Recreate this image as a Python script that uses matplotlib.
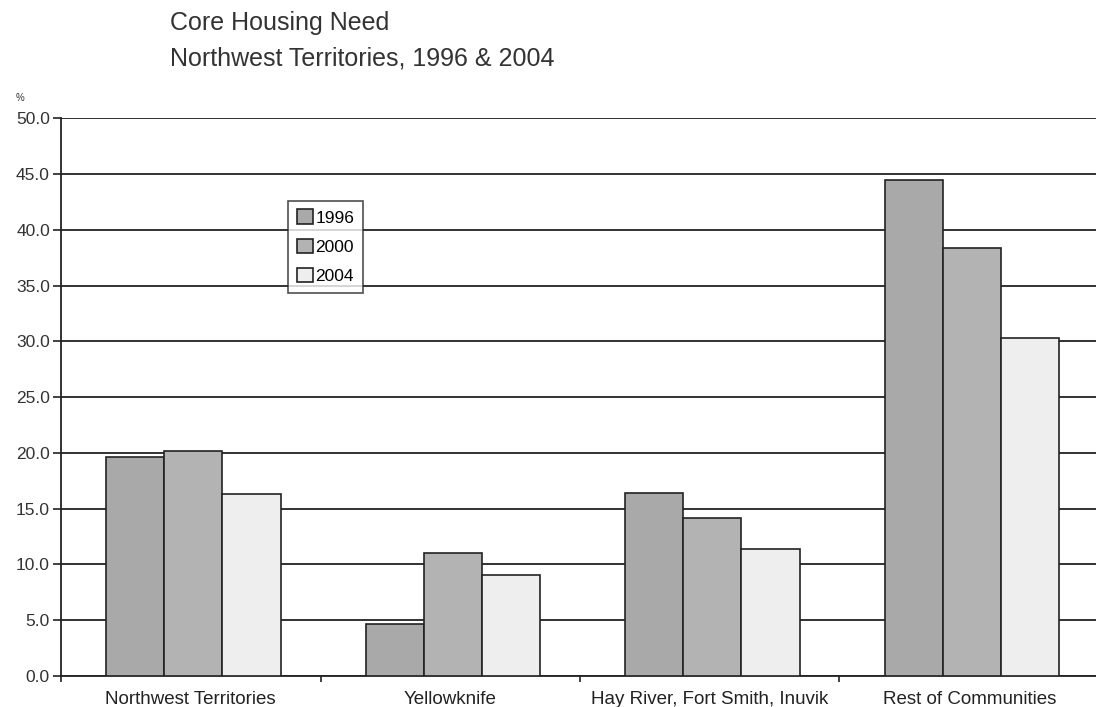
import matplotlib
matplotlib.use("Agg")
import matplotlib.pyplot as plt
import numpy as np

plt.rcParams["font.family"] = ["Liberation Sans", "DejaVu Sans"]

categories = ["Northwest Territories", "Yellowknife",
              "Hay River, Fort Smith, Inuvik", "Rest of Communities"]
years = ["1996", "2000", "2004"]
values_1996 = [19.6, 4.7, 16.4, 44.5]
values_2000 = [20.2, 11.0, 14.2, 38.4]
values_2004 = [16.3, 9.1, 11.4, 30.3]
y_ticks = [0.0, 5.0, 10.0, 15.0, 20.0, 25.0, 30.0, 35.0, 40.0, 45.0, 50.0]

colors = ["#a9a9a9", "#b3b3b3", "#eeeeee"]

fig = plt.figure(figsize=(10.96, 7.07), dpi=100)
ax = fig.add_axes([0.0557, 0.0438, 0.947, 0.789])

x = np.arange(len(categories))
width = 0.224
series = [values_1996, values_2000, values_2004]
for i, (vals, col, yr) in enumerate(zip(series, colors, years)):
    ax.bar(x + 0.01 + (i - 1) * width, vals, width, color=col,
           edgecolor="#222222", linewidth=1.2, label=yr, zorder=3)

ax.set_xlim(-0.5, len(categories) - 0.5)
ax.set_ylim(0, 50)
ax.set_yticks(y_ticks)
ax.set_yticklabels([f"{t:.1f}" for t in y_ticks], fontsize=12.5, color="#333333")
ax.yaxis.grid(True, color="#222222", linewidth=1.3, zorder=0)

ax.set_xticks(x)
ax.set_xticklabels(categories, fontsize=13.5, color="#222222")
ax.set_xticks(np.arange(len(categories) + 1) - 0.5, minor=True)
ax.tick_params(axis="x", which="major", length=0, pad=11)
ax.tick_params(axis="x", which="minor", length=4, width=1.2, color="#222222")
ax.tick_params(axis="y", length=6, width=1.2, color="#222222", pad=2)

for s in ["top", "right"]:
    ax.spines[s].set_visible(False)
for s in ["left", "bottom"]:
    ax.spines[s].set_color("#222222")
    ax.spines[s].set_linewidth(1.3)

leg = ax.legend(loc="upper left", bbox_to_anchor=(0.219, 0.852), fontsize=12.5,
                frameon=True, fancybox=False, handlelength=0.9, handleheight=0.9,
                handletextpad=0.15, borderpad=0.5, labelspacing=0.75,
                borderaxespad=0)
leg.get_frame().set_edgecolor("#222222")
leg.get_frame().set_linewidth(1.2)
leg.set_zorder(5)

fig.text(0.155, 0.967, "Core Housing Need", fontsize=18, color="#333333",
         va="center")
fig.text(0.155, 0.917, "Northwest Territories, 1996 & 2004", fontsize=18,
         color="#333333", va="center")
fig.text(0.014, 0.861, "%", fontsize=7, color="#333333", va="center")

fig.savefig("out.png", dpi=100)
